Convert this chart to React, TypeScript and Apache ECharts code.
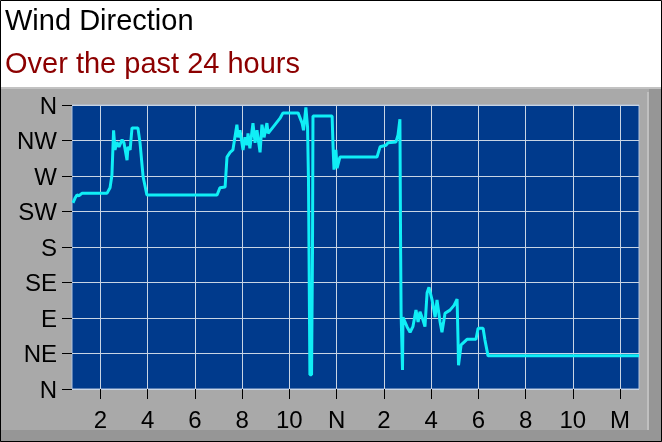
import { useEffect, useRef } from 'react'
import * as echarts from 'echarts'

// time window shown (hours since midnight of the first day)
const X_MIN = 0.8
const X_MAX = 24.8
const X_STEP = 0.1

const TICK_HOURS = [2, 4, 6, 8, 10, 12, 14, 16, 18, 20, 22, 24]
const TICK_LABELS = ['2', '4', '6', '8', '10', 'N', '2', '4', '6', '8', '10', 'M']

const COMPASS_LABELS = ['N', 'NE', 'E', 'SE', 'S', 'SW', 'W', 'NW', 'N']

// readings, hour of day -> direction in degrees
const HOURS = [
  0.84, 0.93, 1.01, 1.1, 1.22, 1.77, 2.28, 2.41, 2.49, 2.56, 2.62, 2.7, 2.79, 2.92, 3.0,
  3.13, 3.17, 3.26, 3.34, 3.59, 3.68, 3.81, 3.97, 6.94, 7.06, 7.28, 7.36, 7.49, 7.61, 7.78,
  7.83, 7.91, 8.04, 8.12, 8.21, 8.25, 8.33, 8.46, 8.55, 8.63, 8.76, 8.84, 8.93, 9.05, 9.1,
  9.31, 9.6, 9.73, 10.37, 10.54, 10.6, 10.7, 10.77, 10.81, 10.87, 10.94, 10.98, 11.0, 11.81,
  11.85, 11.89, 11.97, 12.02, 12.14, 13.71, 13.84, 14.09, 14.18, 14.51, 14.6, 14.68, 14.71,
  14.73, 14.79, 14.81, 14.98, 15.11, 15.23, 15.36, 15.45, 15.53, 15.66, 15.74, 15.83, 15.91,
  16.04, 16.17, 16.25, 16.38, 16.46, 16.59, 16.8, 16.97, 17.1, 17.14, 17.16, 17.27, 17.52,
  17.9, 17.99, 18.2, 18.28, 18.41, 24.8,
]
const DIRECTIONS = [
  236, 242, 246, 245, 248, 248, 248, 255, 271, 328, 303, 313, 307, 316, 312,
  290, 307, 303, 331, 331, 312, 269, 246, 246, 255, 256, 294, 300, 303, 335,
  319, 328, 303, 319, 309, 324, 305, 337, 312, 328, 300, 335, 319, 337, 324,
  332, 343, 350, 350, 337, 328, 357, 332, 265, 18, 18, 176, 346, 346,
  307, 278, 303, 280, 294, 294, 307, 309, 312, 313, 322, 342, 176,
  96, 24, 91, 79, 72, 79, 100, 85, 98, 87, 79, 122, 129,
  113, 91, 113, 85, 72, 96, 100, 106, 114, 62, 30, 56, 63,
  63, 77, 77, 62, 42, 42,
]

const FONT = 'Arial, "Liberation Sans", sans-serif'

export default function App() {
  const chartRef = useRef<HTMLDivElement>(null)

  useEffect(() => {
    if (!chartRef.current) return
    const chart = echarts.init(chartRef.current, null, { renderer: 'svg' })

    // one category per 0.1 h, used only to place ticks, labels and grid lines
    const count = Math.round((X_MAX - X_MIN) / X_STEP) + 1
    const slots = Array.from({ length: count }, (_, i) =>
      String(Math.round((X_MIN + i * X_STEP) * 10) / 10)
    )
    const isTick = (_i: number, v: string) => TICK_HOURS.includes(Number(v))

    const gridLine = { show: true, interval: isTick, lineStyle: { color: '#c8d4e4', width: 1 } }

    chart.setOption({
      animation: false,
      title: [
        {
          text: 'Wind Direction',
          left: 0,
          top: 0,
          textStyle: { fontFamily: FONT, fontSize: 29, fontWeight: 'normal', color: '#000' },
        },
        {
          text: 'Over the past 24 hours',
          left: 0,
          top: 43,
          textStyle: { fontFamily: FONT, fontSize: 29, fontWeight: 'normal', color: '#8c0000' },
        },
      ],
      graphic: [
        { type: 'rect', z: -10, shape: { x: 0, y: 0, width: 662, height: 87 }, style: { fill: '#fff' } },
        { type: 'rect', z: -10, shape: { x: 0, y: 87, width: 662, height: 355 }, style: { fill: '#a9a9a9' } },
        { type: 'rect', z: -9, shape: { x: 0, y: 87, width: 662, height: 2 }, style: { fill: '#c2c2c2' } },
        { type: 'rect', z: -9, shape: { x: 649, y: 89, width: 13, height: 353 }, style: { fill: '#969696' } },
        { type: 'rect', z: -9, shape: { x: 0, y: 430, width: 662, height: 12 }, style: { fill: '#969696' } },
        { type: 'rect', z: -8, shape: { x: 647, y: 92, width: 2, height: 338 }, style: { fill: '#c0c0c0' } },
        {
          type: 'rect',
          z: 20,
          shape: { x: 0.5, y: 0.5, width: 661, height: 441 },
          style: { fill: 'none', stroke: '#000', lineWidth: 1 },
        },
      ],
      grid: {
        left: 72,
        top: 105,
        right: 23,
        bottom: 53,
        show: true,
        backgroundColor: '#003a8c',
        borderColor: '#b4c4dc',
        borderWidth: 1,
      },
      xAxis: [
        { type: 'value', min: X_MIN, max: X_MAX, show: false, position: 'top' },
        {
          type: 'category',
          position: 'bottom',
          data: slots,
          boundaryGap: false,
          axisLine: { show: false },
          axisTick: { show: true, interval: isTick, length: 10, lineStyle: { color: '#000' } },
          axisLabel: {
            interval: isTick,
            margin: 18,
            fontFamily: FONT,
            fontSize: 24,
            color: '#000',
            formatter: (v: string) => {
              const k = TICK_HOURS.indexOf(Number(v))
              return k >= 0 ? TICK_LABELS[k] : ''
            },
          },
          splitLine: gridLine,
        },
      ],
      yAxis: {
        type: 'value',
        min: 0,
        max: 360,
        interval: 45,
        axisLine: { show: false },
        axisTick: { show: true, length: 10, lineStyle: { color: '#000' } },
        axisLabel: {
          margin: 15,
          fontFamily: FONT,
          fontSize: 24,
          color: '#000',
          formatter: (v: number) => COMPASS_LABELS[Math.round(v / 45)],
        },
        splitLine: { show: true, lineStyle: { color: '#c8d4e4', width: 1 } },
      },
      series: [
        {
          type: 'line',
          xAxisIndex: 0,
          data: HOURS.map((h, i) => [h, DIRECTIONS[i]]),
          showSymbol: false,
          lineStyle: { color: '#10eef6', width: 3 },
        },
      ],
    })

    return () => {
      chart.dispose()
    }
  }, [])

  return (
    <div
      ref={chartRef}
      style={{ position: 'fixed', left: 0, top: 0, width: '662px', height: '442px' }}
    />
  )
}
